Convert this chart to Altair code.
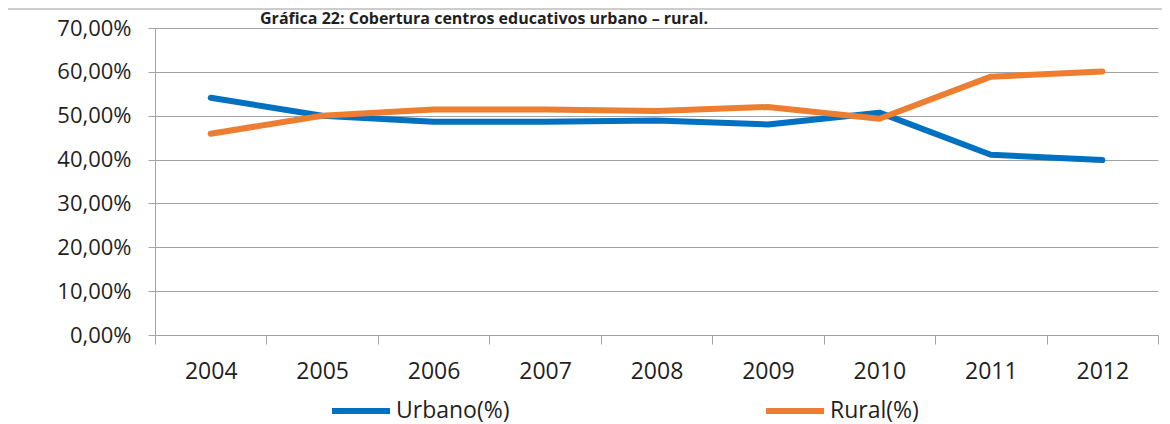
import altair as alt
import pandas as pd

years = ["2004", "2005", "2006", "2007", "2008", "2009", "2010", "2011", "2012"]
urbano = [54.1, 50.0, 48.6, 48.6, 48.9, 48.0, 50.7, 41.1, 39.9]
rural = [45.9, 50.0, 51.4, 51.4, 51.1, 52.0, 49.3, 58.9, 60.1]
series_names = ["Urbano(%)", "Rural(%)"]
series_colors = ["#0070C0", "#ED7D31"]
y_ticks = [0, 10, 20, 30, 40, 50, 60, 70]
title_text = "Gráfica 22: Cobertura centros educativos urbano – rural."

rows = []
for name, vals in zip(series_names, [urbano, rural]):
    for y, v in zip(years, vals):
        rows.append({"Año": y, "Serie": name, "Valor": v})
df = pd.DataFrame(rows)

FONT = "Open Sans"
TXT = "#1f1f1f"
GRID = "#a3a3a3"

lines = alt.Chart(df).mark_line(strokeWidth=6, strokeCap="round", strokeJoin="round").encode(
    x=alt.X("Año:O", sort=years,
            scale=alt.Scale(type="band", paddingInner=0, paddingOuter=0),
            axis=alt.Axis(title=None, labelAngle=0, tickBand="extent", grid=False,
                          domainColor=GRID, tickColor=GRID, tickSize=9,
                          labelFont=FONT, labelFontSize=23, labelColor=TXT,
                          labelPadding=16)),
    y=alt.Y("Valor:Q", scale=alt.Scale(domain=[0, 70], nice=False),
            axis=alt.Axis(title=None, values=y_ticks, grid=True, gridColor=GRID,
                          domainColor=GRID, tickColor=GRID, tickSize=7,
                          labelFont=FONT, labelFontSize=22, labelColor=TXT,
                          labelPadding=17,
                          labelExpr="replace(format(datum.value, '.2f'), '.', ',') + '%'")),
    color=alt.Color("Serie:N", sort=series_names,
                    scale=alt.Scale(domain=series_names, range=series_colors),
                    legend=alt.Legend(title=None, orient="none", direction="horizontal",
                                      legendX=174, legendY=351,
                                      symbolType="stroke", symbolSize=3364,
                                      symbolStrokeWidth=6, labelFont=FONT,
                                      labelFontSize=23, labelColor=TXT,
                                      labelOffset=3, columnPadding=244)),
)

title_df = pd.DataFrame({"t": [title_text]})
title = alt.Chart(title_df).mark_text(font=FONT, fontSize=16, fontWeight="bold",
                                      color=TXT, align="center", baseline="alphabetic").encode(
    text="t:N", x=alt.value(329), y=alt.value(-4))

dummy = pd.DataFrame({"a": [0]})
border_top = alt.Chart(dummy).mark_rule(color="#9a9a9a", strokeWidth=1).encode(
    x=alt.value(-151), x2=alt.value(1012), y=alt.value(-19))
border_left = alt.Chart(dummy).mark_rule(color="#9a9a9a", strokeWidth=1).encode(
    x=alt.value(-151), y=alt.value(-19), y2=alt.value(400))

chart = alt.layer(border_top, border_left, title, lines).properties(
    width=1003, height=307,
    autosize=alt.AutoSizeParams(type="none"),
    padding={"left": 147, "top": 20, "right": 4, "bottom": 89},
).configure_view(stroke=None)

chart.save("out.html", embed_options={"renderer": "svg", "actions": False})
